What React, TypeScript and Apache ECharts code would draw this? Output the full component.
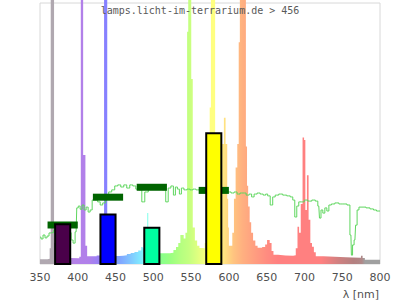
import React, { useEffect, useRef } from "react";
import * as echarts from "echarts";

// Lamp emission spectrum: [wavelength start of bin (nm), relative intensity]
const lampSpectrum: [number, number][] = [
  [350, 1.8], [360, 2.0], [362.8, 6], [364.2, 200], [368.6, 8], [371, 3], [375, 2.5], [380, 2.5],
  [385, 2.3], [390, 2.2], [402, 2.8], [404, 200], [407.1, 41.8], [410.1, 7], [412.4, 3], [420, 3],
  [425, 3.3], [429, 3.5], [434.8, 200], [439, 5], [443, 3.5], [450, 3.1], [455, 3.2], [460, 3.4],
  [465, 3.8], [470, 4.2], [475, 4.6], [480, 5.2], [484, 6.5], [486, 6], [491.8, 19.5], [493.3, 5],
  [500, 4.5], [508, 4.1], [515, 4.1], [522, 4.3], [526.6, 5.4], [530, 6.5], [533, 8], [535.8, 11.1],
  [540.2, 9.8], [542.5, 12], [544.7, 89], [546.2, 200], [550.2, 70.9], [552.2, 14], [555, 9], [558, 7],
  [561, 6.1], [565, 6], [568, 8], [573, 15], [574.6, 60], [576.2, 200], [581.8, 12], [587, 8],
  [591, 46], [593.4, 56], [595.6, 46], [597.8, 25], [599, 14], [600, 7], [604.5, 12], [606.7, 25],
  [608.9, 37], [611.1, 46], [613, 85], [614.5, 200], [622.5, 45], [624, 30], [625.5, 22], [627.5, 16],
  [629.5, 12], [632, 9], [635, 7], [638, 6.2], [644, 6.5], [648, 7.5], [650.5, 9.2], [654, 8],
  [656.5, 5], [659, 3.5], [665, 3.3], [675, 3.2], [685, 3.4], [688.5, 6], [690.8, 14.3], [692.9, 12],
  [695.1, 23], [697.5, 48.5], [699.5, 47.5], [701.2, 20.7], [703.3, 34], [705.5, 17], [707.8, 8],
  [710, 6.6], [712.5, 4.5], [715, 3], [725, 2.8], [740, 2.6], [755, 2.5], [763, 2.4], [774.8, 3.2],
  [777, 2.3], [780, 1.6], [800, 1.6],
];

// Reference (daylight) spectrum
const sunSpectrum: [number, number][] = [
  [350, 10.3], [352.7, 9.6], [355.3, 11.1], [358, 10], [360.6, 10.7], [363.3, 11.9], [366, 12], [370, 13],
  [375, 13.5], [380, 13], [385, 12.5], [390, 12], [392.5, 9.2], [395.1, 8], [397.8, 12.3], [399.5, 21.5],
  [401.8, 22.2], [404.4, 21], [407.1, 22.6], [409.7, 20.7], [412.4, 21.8], [415, 19.9], [417.7, 20.7],
  [420.4, 24.5], [424.3, 24.5], [428.3, 23.8], [431, 22.6], [435, 23.4], [438.9, 25.3], [442.9, 27.6],
  [446.9, 28.4], [450.9, 29.9], [454.9, 30.3], [458.9, 29.5], [462.8, 30.3], [466.8, 29.1], [470.8, 30.3],
  [474.8, 29.9], [478.8, 28.7], [482.8, 28.4], [486.7, 23.8], [490.7, 27.6], [496, 29.1], [502.7, 29.1],
  [509.3, 28.7], [514.6, 28.4], [518.2, 23.8], [521.2, 29.1], [525.2, 29.9], [527.9, 26.4], [530.5, 29.5],
  [533.2, 28.7], [535.8, 26.8], [538.5, 29.1], [542.5, 28.4], [546.5, 28.7], [550.4, 28.4], [554.4, 28.7],
  [558.4, 28.4], [565, 28], [575, 28.2], [585, 27.8], [595, 28], [600.9, 27.6], [604.9, 27.2],
  [608.9, 27.6], [612.8, 26.8], [616.8, 27.2], [620.8, 27.2], [624.8, 26.4], [628.8, 26.8], [631.4, 25.7],
  [635.4, 26.8], [639.4, 27.2], [643.4, 26.8], [647.4, 26.4], [650, 26.8], [652.7, 26.1], [656.7, 22.6],
  [659.3, 25.7], [663.3, 26.4], [668.6, 26.8], [673.9, 26.4], [679.2, 26.1], [683.2, 25.7], [685.9, 24.5],
  [688.5, 18], [691.2, 22.2], [693.8, 23.8], [697.8, 23.8], [701.8, 24.5], [707.1, 24.1], [712.4, 24.5],
  [716.4, 24.1], [719, 22.2], [720.8, 17.6], [723, 20.7], [725.7, 19.5], [728.3, 21.5], [731, 20.3],
  [733.7, 22.6], [737.6, 23], [742.9, 23.4], [748.2, 23], [753.6, 23], [758.9, 22.6], [761.5, 11.1],
  [762.8, 3.4], [764.6, 7.3], [766.8, 9.2], [768.6, 14.9], [770.8, 20.7], [773.5, 21.8], [778.8, 21.8],
  [784.1, 21.5], [789.4, 21.1], [793.4, 20.7], [797.4, 20.3], [800, 20.3],
];

// Band bars (lamp output per band)
const bandStart = [370, 430, 488, 570];
const bandEnd = [390, 450, 508, 590];
const bandValue = [15.2, 19.0, 13.9, 50.1];
const bandColors = ["#4a004a", "#0000ff", "#00ffa0", "#ffff00"];

// Reference markers (daylight per band)
const refStart = [360, 420, 478, 560];
const refEnd = [400, 460, 518, 600];
const refValue = [14.9, 25.6, 29.4, 28.2];

const xTicks = { min: 350, max: 800, interval: 50 };

const specStops: [number, string][] = [
  [350, "#b0a8b0"], [372, "#b0a8b0"], [388, "#a884c8"], [395, "#b480e8"], [415, "#b080ea"],
  [426, "#9c80f4"], [437, "#8680ff"], [447, "#8092ff"], [458, "#80aaff"], [472, "#80ccff"],
  [484, "#80ecff"], [492, "#90fff0"], [505, "#80ff90"], [522, "#98ff80"], [536, "#b4ff80"],
  [547, "#c4ff80"], [560, "#e2ff80"], [572, "#ffff80"], [583, "#ffff80"], [592, "#ffe880"],
  [598, "#ffd880"], [606, "#ffc480"], [618, "#ffb080"], [632, "#ffa080"], [650, "#ff8c80"],
  [665, "#ff8080"], [722, "#ff8080"], [745, "#d08080"], [765, "#b48080"], [776, "#b08888"],
  [780, "#a0a0a0"], [800, "#a0a0a0"],
];

export default function App() {
  const ref = useRef<HTMLDivElement>(null);
  useEffect(() => {
    if (!ref.current) return;
    const chart = echarts.init(ref.current, undefined, { renderer: "svg" });
    const span = xTicks.max - xTicks.min;
    const gradient = new echarts.graphic.LinearGradient(
      0, 0, 1, 0,
      specStops.map(([w, c]) => ({ offset: (w - xTicks.min) / span, color: c }))
    );
    const bandData = bandStart.map((s, i) => [s, bandEnd[i], bandValue[i]]);
    const refData = refStart.map((s, i) => [s, refEnd[i], refValue[i]]);
    chart.setOption({
      animation: false,
      backgroundColor: "#ffffff",
      title: {
        text: "lamps.licht-im-terrarium.de > 456",
        left: "center",
        top: 5,
        padding: 0,
        textStyle: { fontFamily: "DejaVu Sans Mono", fontSize: 10, fontWeight: "normal", color: "#5a5a5a" },
        z: 20,
      },
      grid: { left: 40, top: 3, width: 340, height: 261, show: true, borderColor: "#d8d8d8", borderWidth: 1, backgroundColor: "transparent" },
      xAxis: {
        type: "value",
        min: xTicks.min,
        max: xTicks.max,
        interval: xTicks.interval,
        axisLine: { show: false },
        axisTick: { show: false },
        splitLine: { show: false },
        axisLabel: { color: "#505050", fontFamily: "DejaVu Sans", fontSize: 11, margin: 8 },
      },
      yAxis: { type: "value", min: 0, max: 100, show: false, splitLine: { show: false } },
      graphic: [
        {
          type: "text",
          right: 21,
          top: 289,
          style: { text: "λ [nm]", font: "11px 'DejaVu Sans'", fill: "#505050" },
        },
      ],
      series: [
        {
          type: "line",
          data: lampSpectrum,
          step: "end",
          symbol: "none",
          clip: false,
          lineStyle: { width: 0, opacity: 0 },
          areaStyle: { color: gradient, opacity: 1 },
          z: 1,
        },
        {
          type: "line",
          data: sunSpectrum,
          step: "middle",
          symbol: "none",
          lineStyle: { width: 1, color: "#5ed65e" },
          z: 2,
        },
        {
          type: "custom",
          data: refData,
          encode: { x: [0, 1], y: 2 },
          z: 3,
          renderItem: (params: any, api: any) => {
            const p0 = api.coord([api.value(0), api.value(2)]);
            const p1 = api.coord([api.value(1), api.value(2)]);
            return {
              type: "rect",
              shape: { x: p0[0], y: p0[1] - 3.5, width: p1[0] - p0[0], height: 7 },
              style: { fill: "#006400" },
            };
          },
        },
        {
          type: "custom",
          data: bandData,
          encode: { x: [0, 1], y: 2 },
          z: 4,
          renderItem: (params: any, api: any) => {
            const p0 = api.coord([api.value(0), api.value(2)]);
            const p1 = api.coord([api.value(1), 0]);
            return {
              type: "rect",
              shape: { x: p0[0], y: p0[1], width: p1[0] - p0[0], height: p1[1] - p0[1] },
              style: { fill: bandColors[params.dataIndex], stroke: "#000000", lineWidth: 2 },
            };
          },
        },
      ],
    });
    return () => chart.dispose();
  }, []);
  return (
    <div
      ref={ref}
      style={{ position: "fixed", left: 0, top: 0, width: 400, height: 300, background: "#fff" }}
    />
  );
}
